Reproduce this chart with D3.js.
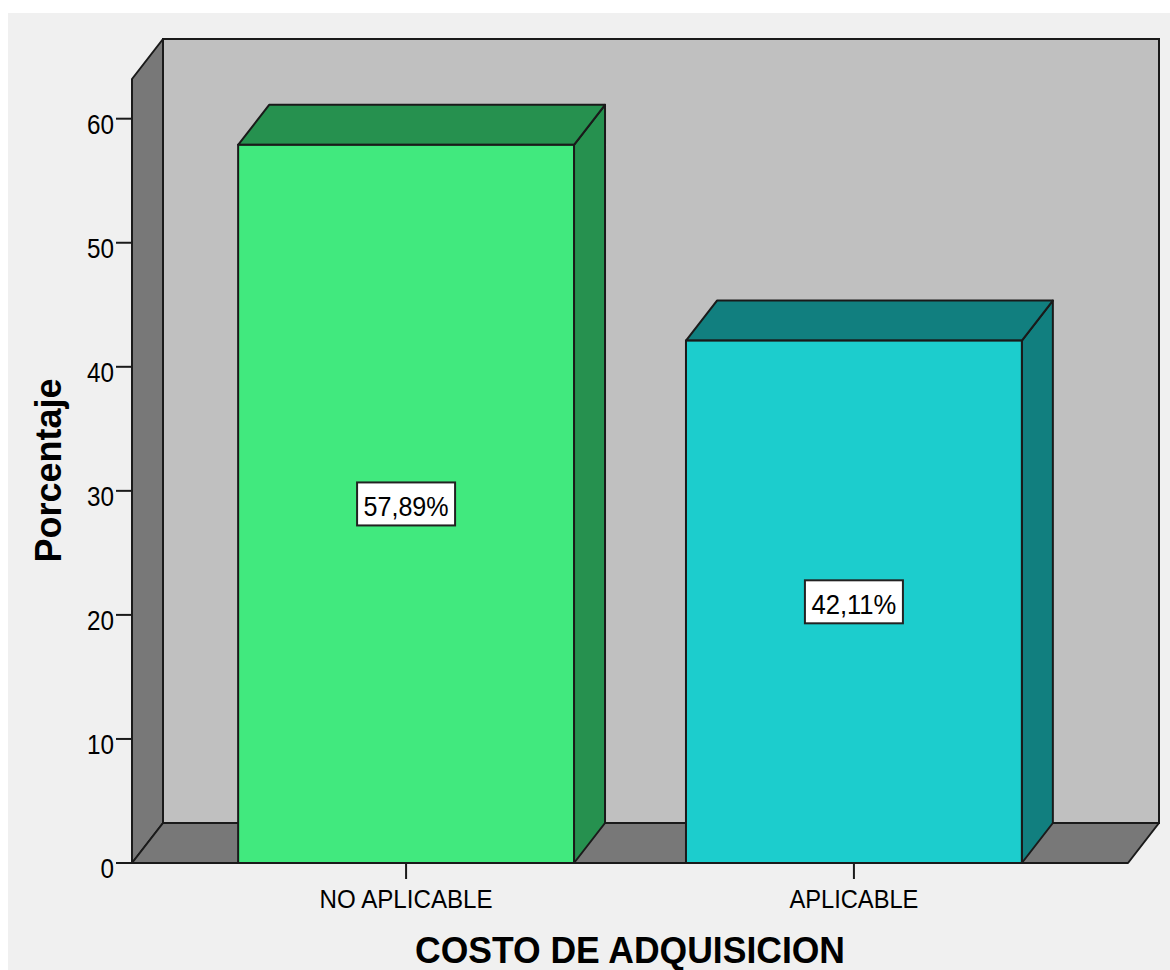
<!DOCTYPE html>
<html>
<head>
<meta charset="utf-8">
<script src="https://cdn.jsdelivr.net/npm/d3@7"></script>
<style>
  html, body { margin: 0; padding: 0; background: #ffffff; }
  svg { display: block; }
  text { font-family: "Liberation Sans", Arial, sans-serif; fill: #000; }
</style>
</head>
<body>
<svg id="chart" width="1170" height="970"></svg>
<script>
// ---- data ----
const categories = ["NO APLICABLE", "APLICABLE"];
const percentages = [57.89, 42.11];
const yTicks = [0, 10, 20, 30, 40, 50, 60];
const yTitle = "Porcentaje";
const xTitle = "COSTO DE ADQUISICION";

// ---- styles ----
const frontColors = ["#41e97e", "#1ccdcd"];
const darkColors = ["#26914f", "#117f7f"];
const lineColor = "#1a1a1a";

const svg = d3.select("#chart");
const W = 1170, H = 970;

// depth offset for the 3D look
const dx = 31, dy = 40;
const left = 132, right = 1128, bottom = 863, topFront = 79;

const x = d3.scaleBand().domain(categories).range([left, right])
  .paddingInner(0.25).paddingOuter(0.237);
const y = d3.scaleLinear().domain([0, 63.2]).range([bottom, topFront]);

const locale = d3.formatLocale({decimal: ",", thousands: ".", grouping: [3], currency: ["", "€"]});
const fmt = v => locale.format(".2f")(v) + "%";

// panel background
svg.append("rect").attr("x", 8).attr("y", 13).attr("width", W - 8).attr("height", H - 13)
  .attr("fill", "#f0f0f0");

// back wall
svg.append("rect")
  .attr("x", left + dx).attr("y", topFront - dy)
  .attr("width", right - left).attr("height", bottom - topFront)
  .attr("fill", "#c0c0c0").attr("stroke", lineColor).attr("stroke-width", 2);

// left wall
svg.append("polygon")
  .attr("points", [[left, bottom], [left, topFront], [left + dx, topFront - dy], [left + dx, bottom - dy]].map(p => p.join(",")).join(" "))
  .attr("fill", "#787878").attr("stroke", lineColor).attr("stroke-width", 2).attr("stroke-linejoin", "round");

// floor
svg.append("polygon")
  .attr("points", [[left, bottom], [left + dx, bottom - dy], [right + dx, bottom - dy], [right, bottom]].map(p => p.join(",")).join(" "))
  .attr("fill", "#787878").attr("stroke", lineColor).attr("stroke-width", 2).attr("stroke-linejoin", "round");

// bars
const bars = svg.append("g").selectAll("g").data(categories).join("g");
bars.each(function(c, i) {
  const g = d3.select(this);
  const x0 = x(c), x1 = x(c) + x.bandwidth();
  const yt = y(percentages[i]);
  // right side
  g.append("polygon")
    .attr("points", [[x1, yt], [x1 + dx, yt - dy], [x1 + dx, bottom - dy], [x1, bottom]].map(p => p.join(",")).join(" "))
    .attr("fill", darkColors[i]).attr("stroke", lineColor).attr("stroke-width", 2).attr("stroke-linejoin", "round");
  // top
  g.append("polygon")
    .attr("points", [[x0, yt], [x0 + dx, yt - dy], [x1 + dx, yt - dy], [x1, yt]].map(p => p.join(",")).join(" "))
    .attr("fill", darkColors[i]).attr("stroke", lineColor).attr("stroke-width", 2).attr("stroke-linejoin", "round");
  // front
  g.append("rect")
    .attr("x", x0).attr("y", yt).attr("width", x1 - x0).attr("height", bottom - yt)
    .attr("fill", frontColors[i]).attr("stroke", lineColor).attr("stroke-width", 2);
  // value label
  const cx = (x0 + x1) / 2, cy = (yt + bottom) / 2;
  g.append("rect")
    .attr("x", cx - 49).attr("y", cy - 21.5).attr("width", 98).attr("height", 43)
    .attr("fill", "#ffffff").attr("stroke", "#222").attr("stroke-width", 2);
  g.append("text")
    .attr("x", cx).attr("y", cy + 12)
    .attr("text-anchor", "middle")
    .attr("font-size", 28)
    .attr("textLength", 85).attr("lengthAdjust", "spacingAndGlyphs")
    .text(fmt(percentages[i]));
});

// y axis ticks
const yAxisG = svg.append("g");
yAxisG.selectAll("line").data(yTicks).join("line")
  .attr("x1", left - 16).attr("x2", left)
  .attr("y1", d => y(d)).attr("y2", d => y(d))
  .attr("stroke", lineColor).attr("stroke-width", 2);
yAxisG.selectAll("text").data(yTicks).join("text")
  .attr("x", left - 18).attr("y", d => y(d) + 15)
  .attr("text-anchor", "end")
  .attr("font-size", 27)
  .attr("textLength", d => String(d).length * 13.5).attr("lengthAdjust", "spacingAndGlyphs")
  .text(d => d);

// x axis ticks
const xAxisG = svg.append("g");
xAxisG.selectAll("line").data(categories).join("line")
  .attr("x1", d => x(d) + x.bandwidth() / 2).attr("x2", d => x(d) + x.bandwidth() / 2)
  .attr("y1", bottom).attr("y2", bottom + 16)
  .attr("stroke", lineColor).attr("stroke-width", 2);
const catWidths = [173, 129];
xAxisG.selectAll("text").data(categories).join("text")
  .attr("x", d => x(d) + x.bandwidth() / 2).attr("y", 908)
  .attr("text-anchor", "middle")
  .attr("font-size", 26)
  .attr("textLength", (d, i) => catWidths[i]).attr("lengthAdjust", "spacingAndGlyphs")
  .text(d => d);

// axis titles
svg.append("text")
  .attr("transform", "translate(61,470.5) rotate(-90)")
  .attr("text-anchor", "middle")
  .attr("font-size", 36).attr("font-weight", "bold")
  .text(yTitle);

svg.append("text")
  .attr("x", 630).attr("y", 963)
  .attr("text-anchor", "middle")
  .attr("font-size", 36).attr("font-weight", "bold")
  .attr("textLength", 430).attr("lengthAdjust", "spacingAndGlyphs")
  .text(xTitle);
</script>
</body>
</html>
